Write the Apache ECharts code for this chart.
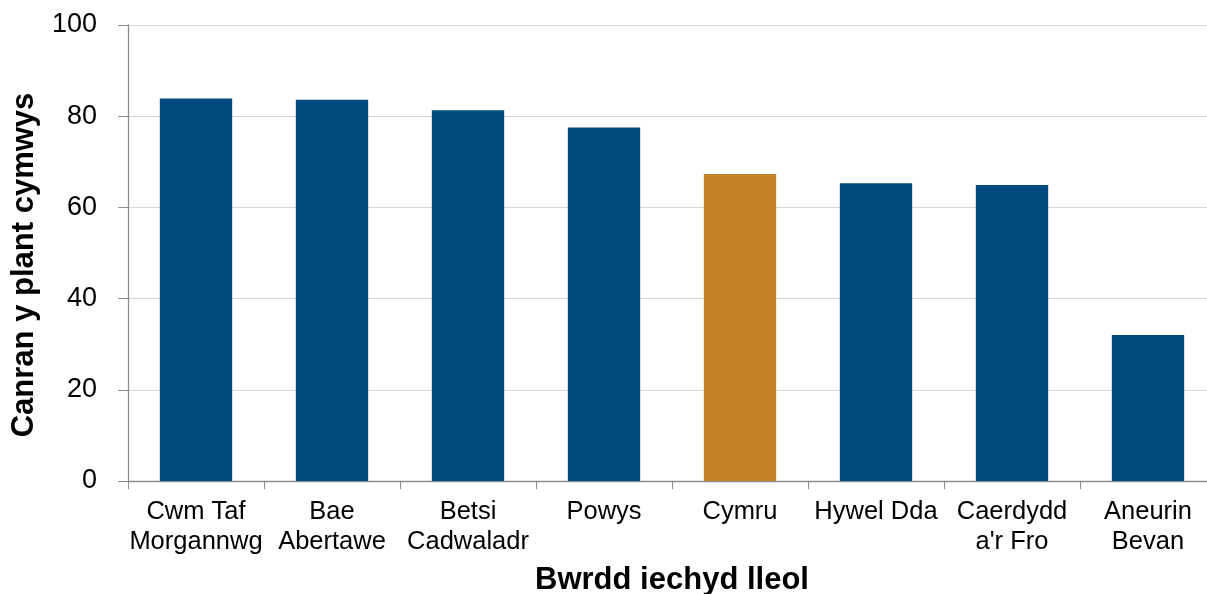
<!DOCTYPE html>
<html><head><meta charset="utf-8">
<script src="https://cdn.jsdelivr.net/npm/echarts@6/dist/echarts.min.js"></script>
<style>html,body{margin:0;padding:0;background:#fff}#c{width:1207px;height:594px}</style>
</head><body><div id="c"></div>
<script>
const categories = ['Cwm Taf\nMorgannwg','Bae\nAbertawe','Betsi\nCadwaladr','Powys','Cymru','Hywel Dda','Caerdydd\na\'r Fro','Aneurin\nBevan'];
const values = [83.9, 83.6, 81.3, 77.5, 67.3, 65.3, 64.9, 32.0];
const highlight = ['Cymru'];
const yTicks = {min: 0, max: 100, interval: 20};
const navy = '#034A7E', orange = '#C68326';
const chart = echarts.init(document.getElementById('c'));
chart.setOption({
  animation: false,
  grid: {left: 128, width: 1088, top: 25, height: 456, outerBoundsMode: 'none', containLabel: false},
  xAxis: {
    type: 'category', data: categories,
    name: 'Bwrdd iechyd lleol', nameLocation: 'middle', nameGap: 84,
    nameTextStyle: {fontFamily: 'Liberation Sans', fontWeight: 'bold', fontSize: 31, color: '#000'},
    axisLine: {lineStyle: {color: '#8c8c8c', width: 1.3}},
    axisTick: {show: true, length: 8, lineStyle: {color: '#8c8c8c'}},
    axisLabel: {fontFamily: 'Liberation Sans', fontSize: 25.5, color: '#000', lineHeight: 30, margin: 16, interval: 0}
  },
  yAxis: {
    type: 'value', min: yTicks.min, max: yTicks.max, interval: yTicks.interval,
    name: 'Canran y plant cymwys', nameLocation: 'middle', nameGap: 88,
    nameTextStyle: {fontFamily: 'Liberation Sans', fontWeight: 'bold', fontSize: 31, color: '#000', padding: [0, 24, 0, 0]},
    axisLine: {show: true, lineStyle: {color: '#8c8c8c', width: 1.3}},
    axisTick: {show: true, length: 10, lineStyle: {color: '#8c8c8c'}},
    splitLine: {lineStyle: {color: '#d9d9d9', width: 1}},
    axisLabel: {fontFamily: 'Liberation Sans', fontSize: 27, color: '#000', margin: 31}
  },
  series: [{
    type: 'bar', barCategoryGap: '46.8%',
    data: values.map((v, i) => ({value: v, itemStyle: {color: highlight.includes(categories[i]) ? orange : navy}}))
  }]
});
</script></body></html>
